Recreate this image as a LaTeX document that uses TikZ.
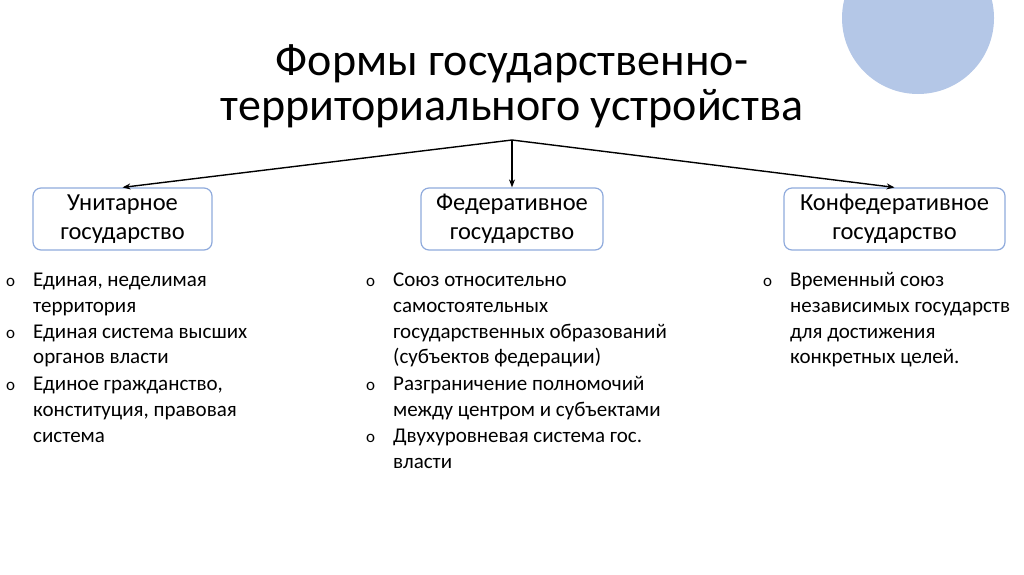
\documentclass[tikz,border=0pt]{standalone}
\usepackage{fontspec}
\usetikzlibrary{arrows.meta}
\setmainfont{Carlito}
\definecolor{circ}{RGB}{180,199,231}
\definecolor{bord}{RGB}{143,170,220}
\begin{document}
\begin{tikzpicture}[x=1pt,y=-1pt,
  box/.style={draw=bord,line width=1.2pt,rounded corners=8pt,minimum height=62pt,align=center,font=\fontsize{24.5}{29}\selectfont},
  ln/.style={anchor=base west,inner sep=0,font=\fontsize{21}{24}\selectfont},
  bul/.style={anchor=base west,inner sep=0,font=\fontsize{17}{20}\selectfont},
  arr/.style={-{Stealth[length=8pt,width=6pt]},line width=1.4pt}]
\useasboundingbox (0,0) rectangle (1024,574);
\fill[circ] (918,18) circle (76);
\node[align=center,font=\fontsize{46}{45}\selectfont] (title) at (512,86) {Формы государственно-\\территориального устройства};
\coordinate (hub) at (512,140);
\node[box,minimum width=179pt] (u) at (122.5,219) {Унитарное\\государство};
\node[box,minimum width=182pt] (f) at (512,219) {Федеративное\\государство};
\node[box,minimum width=221pt] (k) at (894.5,219) {Конфедеративное\\государство};
\draw[arr] (hub) -- (u.north);
\draw[arr] (hub) -- (f.north);
\draw[arr] (hub) -- (k.north);
% left
\node[bul] (b1) at (6,286) {o};
\node[ln] (l1) at (33,286) {Единая, неделимая};
\node[ln] (l2) at (33,312) {территория};
\node[bul] (b2) at (6,338) {o};
\node[ln] (l3) at (33,338) {Единая система высших};
\node[ln] (l4) at (33,363) {органов власти};
\node[bul] (b3) at (6,390) {o};
\node[ln] (l5) at (33,390) {Единое гражданство,};
\node[ln] (l6) at (33,416) {конституция, правовая};
\node[ln] (l7) at (33,442) {система};
% middle
\node[bul] (c1) at (366,286) {o};
\node[ln] (m1) at (393,286) {Союз относительно};
\node[ln] (m2) at (393,312) {самостоятельных};
\node[ln] (m3) at (393,338) {государственных образований};
\node[ln] (m4) at (393,363) {(субъектов федерации)};
\node[bul] (c2) at (366,390) {o};
\node[ln] (m5) at (393,390) {Разграничение полномочий};
\node[ln] (m6) at (393,416) {между центром и субъектами};
\node[bul] (c3) at (366,442) {o};
\node[ln] (m7) at (393,442) {Двухуровневая система гос.};
\node[ln] (m8) at (393,468) {власти};
% right
\node[bul] (d1) at (763,286) {o};
\node[ln] (r1) at (790,286) {Временный союз};
\node[ln] (r2) at (790,312) {независимых государств};
\node[ln] (r3) at (790,338) {для достижения};
\node[ln] (r4) at (790,363) {конкретных целей.};
\end{tikzpicture}
\end{document}
